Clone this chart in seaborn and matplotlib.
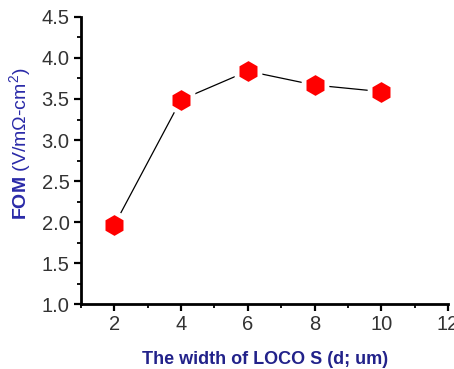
import matplotlib
matplotlib.use("Agg")
import matplotlib.pyplot as plt
from matplotlib.ticker import MultipleLocator
import seaborn as sns
import pandas as pd

# LOCOS width sweep and the resulting figure of merit
locos_width = [2, 4, 6, 8, 10]
fom = [1.96, 3.49, 3.84, 3.67, 3.59]
x_ticks = [2, 4, 6, 8, 10, 12]
y_ticks = [1.0, 1.5, 2.0, 2.5, 3.0, 3.5, 4.0, 4.5]

df = pd.DataFrame({"width": locos_width, "fom": fom})

sns.set_style("ticks")
plt.rcParams["font.family"] = ["Liberation Sans", "DejaVu Sans"]
plt.rcParams["mathtext.fontset"] = "custom"
plt.rcParams["mathtext.rm"] = "Liberation Sans"
plt.rcParams["mathtext.bf"] = "Liberation Sans:bold"

fig = plt.figure(figsize=(4.54, 3.69), dpi=100)
ax = fig.add_axes([0.178, 0.176, 0.809, 0.778])

sns.lineplot(data=df, x="width", y="fom", ax=ax, color="black", linewidth=0.9,
             marker="h", markersize=19, markerfacecolor="#ff0000",
             markeredgecolor="white", markeredgewidth=3.5, zorder=3)

ax.set_xlim(1, 12)
ax.set_ylim(1.0, 4.5)
ax.set_xticks(x_ticks)
ax.set_yticks(y_ticks)
ax.xaxis.set_minor_locator(MultipleLocator(1))
ax.yaxis.set_minor_locator(MultipleLocator(0.25))
ax.set_xticklabels([str(v) for v in x_ticks])
ax.set_yticklabels([f"{v:.1f}" for v in y_ticks])

for side in ("top", "right"):
    ax.spines[side].set_visible(False)
for side in ("left", "bottom"):
    ax.spines[side].set_linewidth(2.0)
    ax.spines[side].set_color("black")

ax.tick_params(which="major", length=5, width=1.6, color="black",
               labelsize=14.5, labelcolor="#333333", pad=3)
ax.tick_params(which="minor", length=3, width=1.3, color="black")

ax.set_xlabel("")
ax.set_ylabel("")
fig.text(0.584, 0.003, "The width of LOCO S (d; um)", ha="center", va="bottom",
         fontsize=13, fontweight="bold", color="#22228a")
fig.text(0.045, 0.61, r"$\mathbf{FOM}$ (V/m$\Omega$-cm$^2$)", rotation=90,
         ha="center", va="center", fontsize=14, color="#2a2aa8")

fig.savefig("out.png", dpi=100)
